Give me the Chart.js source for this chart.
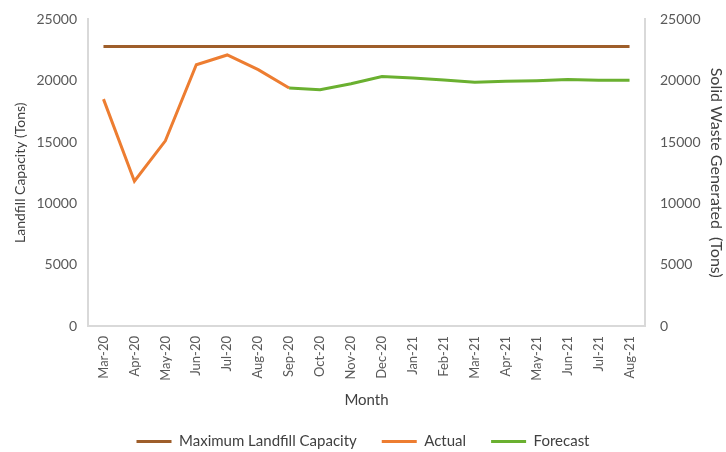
<!DOCTYPE html>
<html>
<head>
<meta charset="utf-8">
<script src="https://cdn.jsdelivr.net/npm/chart.js@4.4.1/dist/chart.umd.min.js"></script>
<style>
  html, body { margin: 0; padding: 0; background: #fff; }
</style>
</head>
<body>
<canvas id="grafica" width="726" height="452"></canvas>
<script>
// meses
const months = ['Mar-20', 'Apr-20', 'May-20', 'Jun-20', 'Jul-20', 'Aug-20', 'Sep-20', 'Oct-20', 'Nov-20',
  'Dec-20', 'Jan-21', 'Feb-21', 'Mar-21', 'Apr-21', 'May-21', 'Jun-21', 'Jul-21', 'Aug-21'];

const maxCapacity = [22800, 22800, 22800, 22800, 22800, 22800, 22800, 22800, 22800,
  22800, 22800, 22800, 22800, 22800, 22800, 22800, 22800, 22800];

const actual = [18500, 11800, 15100, 21300, 22100, 20900, 19400, null, null,
  null, null, null, null, null, null, null, null, null];

const forecast = [null, null, null, null, null, null, 19400, 19270, 19750,
  20350, 20230, 20060, 19870, 19950, 20000, 20100, 20030, 20030];

const yTicks = [0, 5000, 10000, 15000, 20000, 25000];

const FONT = 'Lato, "Open Sans", sans-serif';
const GREY = '#595959';
const DARK = '#404040';
const AXIS = '#d9d9d9';

const ctx = document.getElementById('grafica').getContext('2d');

new Chart(ctx, {
  type: 'line',
  data: {
    labels: months,
    datasets: [
      { label: 'Maximum Landfill Capacity', data: maxCapacity, borderColor: '#9E5E2A', borderWidth: 3, pointRadius: 0, tension: 0, yAxisID: 'y' },
      { label: 'Actual', data: actual, borderColor: '#ED7D31', borderWidth: 3, pointRadius: 0, tension: 0, yAxisID: 'y' },
      { label: 'Forecast', data: forecast, borderColor: '#6AB030', borderWidth: 3, pointRadius: 0, tension: 0, yAxisID: 'y' }
    ]
  },
  options: {
    responsive: false,
    animation: false,
    layout: { padding: { top: 12, right: 0, bottom: -7, left: 0 } },
    plugins: {
      tooltip: { enabled: false },
      legend: {
        position: 'bottom',
        labels: {
          usePointStyle: true,
          pointStyle: 'line',
          pointStyleWidth: 35,
          boxHeight: 3,
          color: DARK,
          padding: 25,
          font: { family: FONT, size: 15 }
        }
      }
    },
    scales: {
      x: {
        offset: true,
        grid: { display: false, drawTicks: false },
        border: { color: AXIS, width: 2 },
        ticks: { color: GREY, font: { family: FONT, size: 13 }, minRotation: 90, maxRotation: 90, autoSkip: false, padding: 10 },
        title: { display: true, text: 'Month', color: DARK, font: { family: FONT, size: 15 }, padding: 0 },
        afterFit: s => { s.height = 83; }
      },
      y: {
        position: 'left',
        min: 0, max: 25000,
        afterBuildTicks: s => { s.ticks = yTicks.map(v => ({ value: v })); },
        grid: { display: false, drawTicks: false },
        border: { color: AXIS, width: 2 },
        ticks: { color: GREY, font: { family: FONT, size: 14 }, padding: 11, callback: v => String(v) },
        title: { display: true, text: 'Landfill Capacity (Tons)', color: DARK, font: { family: FONT, size: 14 }, padding: 12 },
        afterFit: s => { s.width = 88; }
      },
      y2: {
        position: 'right',
        min: 0, max: 25000,
        afterBuildTicks: s => { s.ticks = yTicks.map(v => ({ value: v })); },
        grid: { display: false, drawOnChartArea: false, tickLength: 5, color: AXIS },
        border: { color: AXIS, width: 2 },
        ticks: { color: GREY, font: { family: FONT, size: 14 }, padding: 10, callback: v => String(v) },
        title: { display: true, text: 'Solid Waste Generated  (Tons)', color: DARK, font: { family: FONT, size: 16 }, padding: 0 },
        afterFit: s => { s.width = 81; }
      }
    }
  }
});
</script>
</body>
</html>
